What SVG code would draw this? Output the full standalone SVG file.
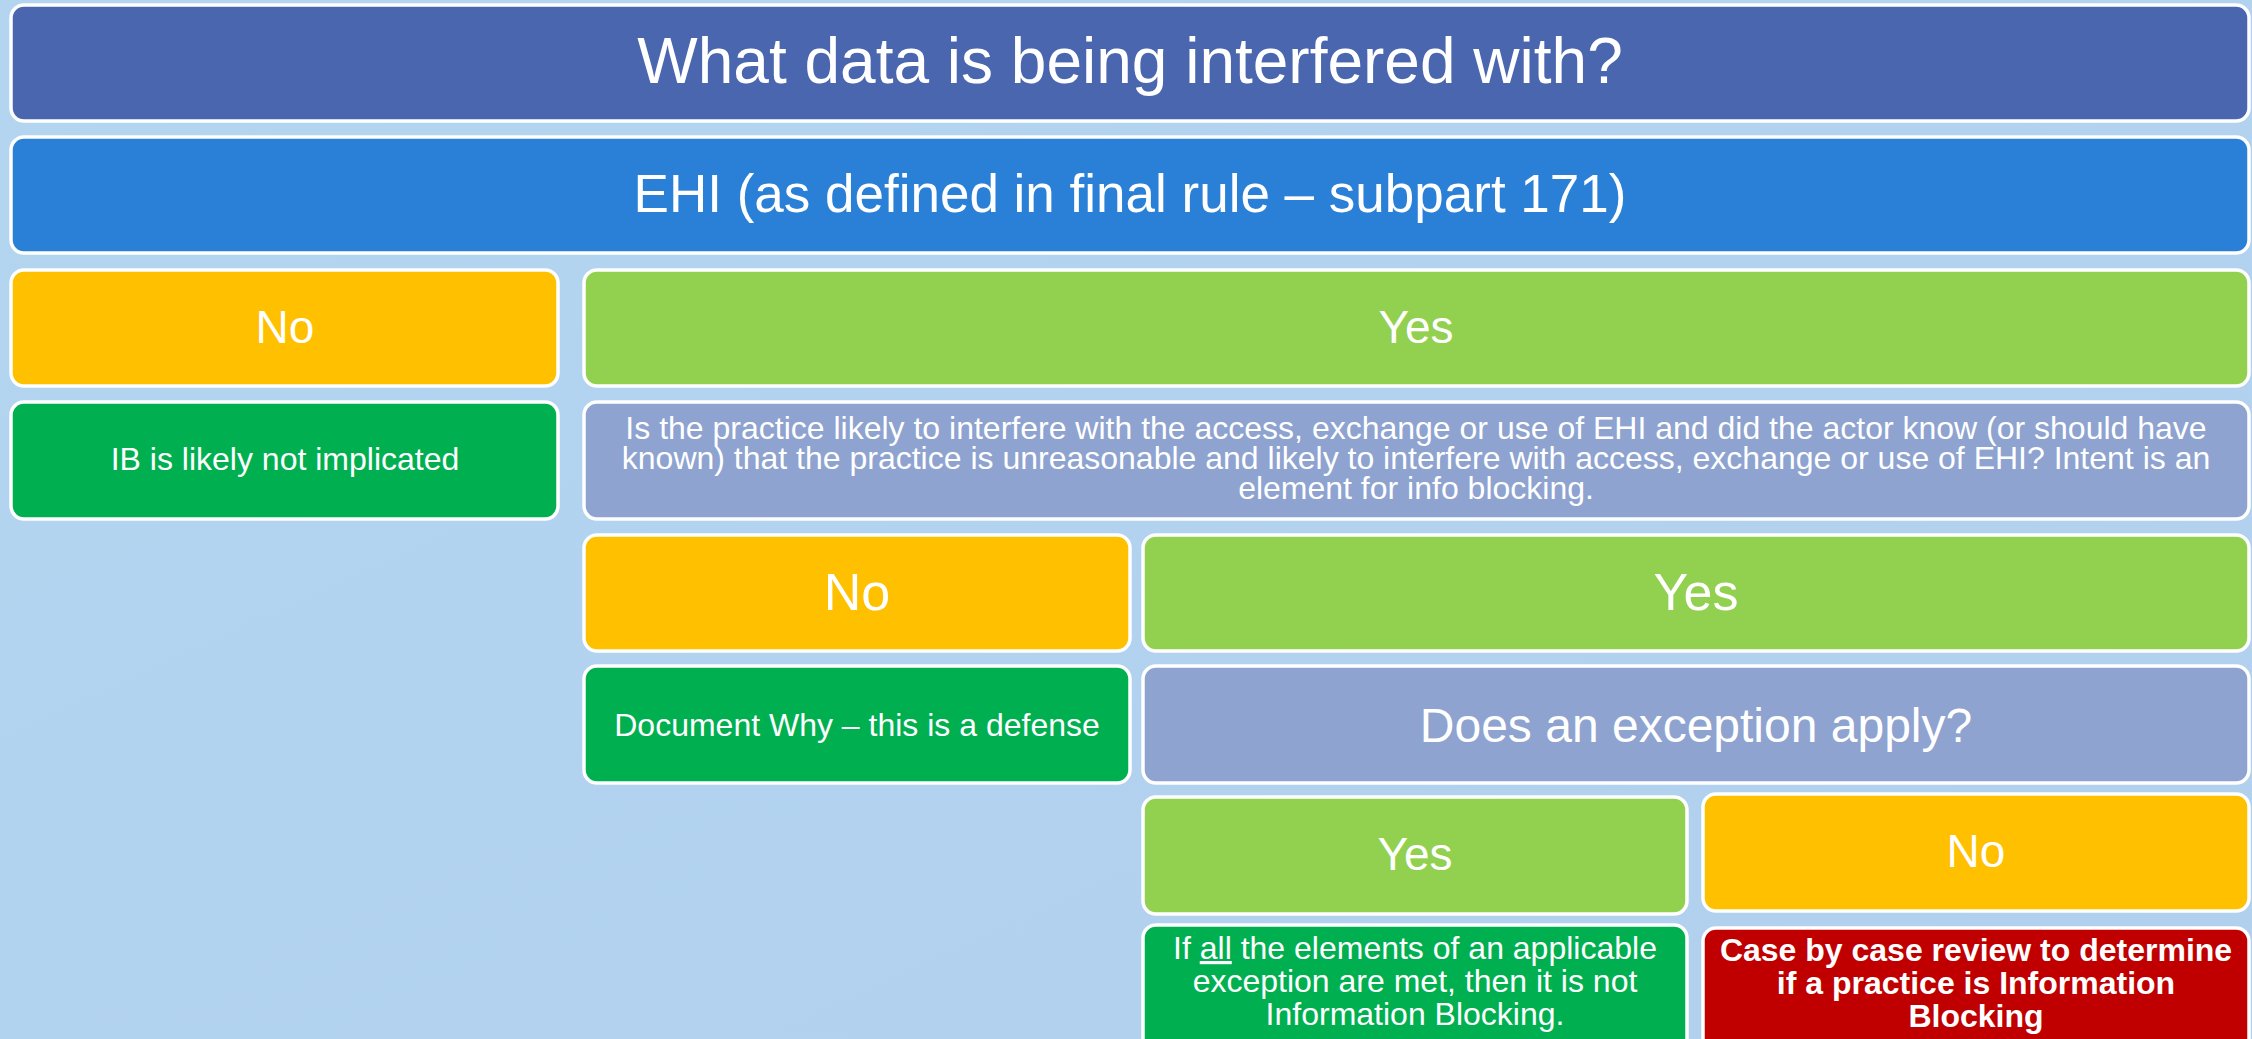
<svg xmlns="http://www.w3.org/2000/svg" width="2252" height="1039" viewBox="0 0 2252 1039">
<defs>
<linearGradient id="bg" x1="0" y1="0" x2="1" y2="1">
<stop offset="0" stop-color="#B4D5F0"/>
<stop offset="1" stop-color="#B0D0EE"/>
</linearGradient>
<style>
.b{stroke:#FFFFFF;stroke-width:3.5}
.t{font-family:"Liberation Sans",Arial,sans-serif;fill:#FFFFFF;text-anchor:middle}
.navy{fill:#4A66AE}
.blue{fill:#2A7FD7}
.yel{fill:#FFC000}
.lg{fill:#92D050}
.dg{fill:#00B050}
.lav{fill:#8EA3D0}
.red{fill:#C00000}
</style>
</defs>
<rect x="0" y="0" width="2252" height="1039" fill="url(#bg)"/>
<g id="connectors"></g>
<g id="n-title"><rect class="b navy" x="11" y="5" width="2238" height="116" rx="13"/><text class="t" x="1130" y="83" font-size="64">What data is being interfered with?</text></g>
<g id="n-ehi"><rect class="b blue" x="11" y="137" width="2238" height="116" rx="13"/><text class="t" x="1130" y="212" font-size="53">EHI (as defined in final rule – subpart 171)</text></g>
<g id="n-no1"><rect class="b yel" x="11" y="270" width="547" height="116" rx="13"/><text class="t" x="285" y="343" font-size="46">No</text></g>
<g id="n-yes1"><rect class="b lg" x="584" y="270" width="1665" height="116" rx="13"/><text class="t" x="1416" y="343" font-size="46">Yes</text></g>
<g id="n-ib"><rect class="b dg" x="11" y="402" width="547" height="117" rx="13"/><text class="t" x="285" y="470" font-size="32">IB is likely not implicated</text></g>
<g id="n-practice"><rect class="b lav" x="584" y="402" width="1665" height="117" rx="13"/><text class="t" x="1416" y="439" font-size="32">Is the practice likely to interfere with the access, exchange or use of EHI and did the actor know (or should have</text><text class="t" x="1416" y="469" font-size="32">known) that the practice is unreasonable and likely to interfere with access, exchange or use of EHI? Intent is an</text><text class="t" x="1416" y="499" font-size="32">element for info blocking.</text></g>
<g id="n-no2"><rect class="b yel" x="584" y="535" width="546" height="116" rx="13"/><text class="t" x="857" y="610" font-size="52">No</text></g>
<g id="n-yes2"><rect class="b lg" x="1143" y="535" width="1106" height="116" rx="13"/><text class="t" x="1696" y="610" font-size="52">Yes</text></g>
<g id="n-doc"><rect class="b dg" x="584" y="666" width="546" height="117" rx="13"/><text class="t" x="857" y="736" font-size="32">Document Why – this is a defense</text></g>
<g id="n-exc"><rect class="b lav" x="1143" y="666" width="1106" height="117" rx="13"/><text class="t" x="1696" y="742" font-size="48">Does an exception apply?</text></g>
<g id="n-yes3"><rect class="b lg" x="1143" y="797" width="544" height="117" rx="13"/><text class="t" x="1415" y="870" font-size="46">Yes</text></g>
<g id="n-no3"><rect class="b yel" x="1703" y="794" width="546" height="117" rx="13"/><text class="t" x="1976" y="867" font-size="46">No</text></g>
<g id="n-allmet"><rect class="b dg" x="1143" y="925" width="544" height="130" rx="13"/><text class="t" x="1415" y="959" font-size="32">If <tspan text-decoration="underline">all</tspan> the elements of an applicable</text><text class="t" x="1415" y="992" font-size="32">exception are met, then it is not</text><text class="t" x="1415" y="1025" font-size="32">Information Blocking.</text></g>
<g id="n-case"><rect class="b red" x="1703" y="928" width="546" height="130" rx="13"/><text class="t" x="1976" y="961" font-size="32" font-weight="bold">Case by case review to determine</text><text class="t" x="1976" y="994" font-size="32" font-weight="bold">if a practice is Information</text><text class="t" x="1976" y="1027" font-size="32" font-weight="bold">Blocking</text></g>
</svg>
